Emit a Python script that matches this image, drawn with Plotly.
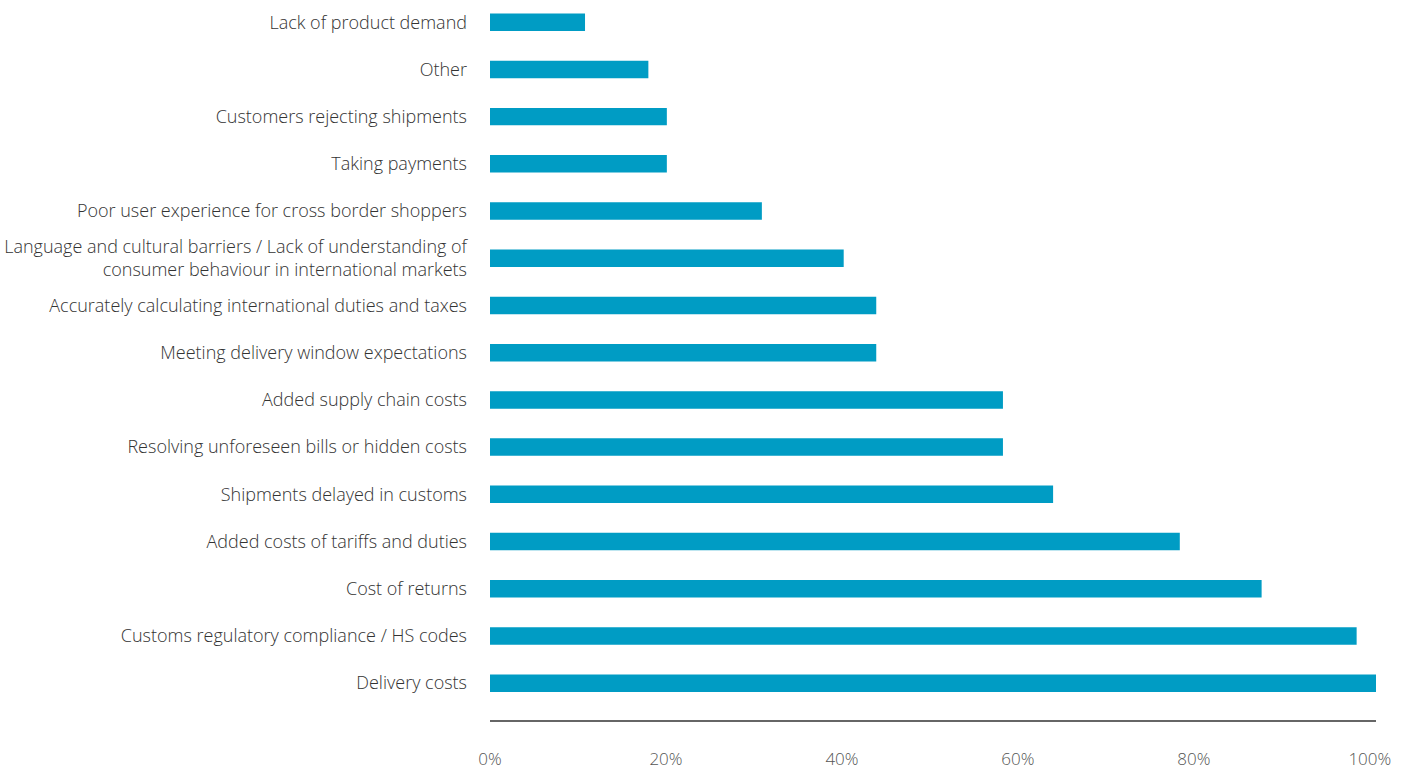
import plotly.graph_objects as go

categories = [
    "Delivery costs",
    "Customs regulatory compliance / HS codes",
    "Cost of returns",
    "Added costs of tariffs and duties",
    "Shipments delayed in customs",
    "Resolving unforeseen bills or hidden costs",
    "Added supply chain costs",
    "Meeting delivery window expectations",
    "Accurately calculating international duties and taxes",
    "Language and cultural barriers / Lack of understanding of<br>consumer behaviour in international markets",
    "Poor user experience for cross border shoppers",
    "Taking payments",
    "Customers rejecting shipments",
    "Other",
    "Lack of product demand",
]
values = [100.7, 98.5, 87.7, 78.4, 64.0, 58.3, 58.3, 43.9, 43.9, 40.2, 30.9, 20.1, 20.1, 18.0, 10.8]
tick_vals = [0, 20, 40, 60, 80, 100]
tick_text = ["0%", "20%", "40%", "60%", "80%", "100%"]

fig = go.Figure(go.Bar(
    y=categories, x=values, orientation="h",
    marker=dict(color="#009CC4", line=dict(width=0)),
    hoverinfo="x+y",
))

font_family = "'Open Sans', Lato, sans-serif"
fig.update_layout(
    width=1407, height=769,
    margin=dict(l=490, r=31, t=0, b=49, autoexpand=False),
    plot_bgcolor="white", paper_bgcolor="white",
    bargap=0.63,
    showlegend=False,
    font=dict(family=font_family, size=18, color="#333333", weight=300),
)
fig.update_xaxes(
    range=[0, 100.7], tickvals=tick_vals, ticktext=tick_text,
    showgrid=False, zeroline=False, automargin=False,
    showline=True, linecolor="#666666", linewidth=1.5,
    ticks="", ticklabelstandoff=23,
    tickfont=dict(family=font_family, size=17, color="#555555", weight=300),
)
fig.update_yaxes(
    type="category", range=[-0.78, 14.47], automargin=False,
    showgrid=False, zeroline=False, showline=False,
    ticks="", ticklabelstandoff=22,
    tickfont=dict(family=font_family, size=18, color="#333333", weight=300),
)

fig.write_html("out.html")
